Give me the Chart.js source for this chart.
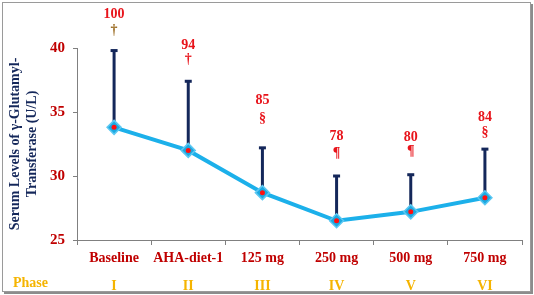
<!DOCTYPE html>
<html lang="en">
<head>
<meta charset="UTF-8">
<title>Serum GGT by phase</title>
<script src="https://cdn.jsdelivr.net/npm/chart.js"></script>
<style>
  html, body { margin: 0; padding: 0; background: #fff; }
  #wrap { position: relative; width: 534px; height: 295px; }
  #frame { position: absolute; left: 2px; top: 2px; width: 527px; height: 288px;
           border: 1px solid #9a9a9a; box-shadow: 2px 2px 0 #8c8c8c; pointer-events: none; }
</style>
</head>
<body>
<div id="wrap">
  <canvas id="ggtChart" width="534" height="295"></canvas>
  <div id="frame"></div>
</div>
<script>
const categories = ['Baseline', 'AHA-diet-1', '125 mg', '250 mg', '500 mg', '750 mg'];
const phases = ['I', 'II', 'III', 'IV', 'V', 'VI'];
const means = [33.8, 32.0, 28.7, 26.5, 27.2, 28.3];
const upperErr = [39.8, 37.4, 32.2, 30.0, 30.1, 32.1];
const pctLabels = ['100', '94', '85', '78', '80', '84'];
const sigMarks = ['\u2020', '\u2020', '\u00A7', '\u00B6', '\u00B6', '\u00A7'];
const pctLabelY = [42.6, 40.2, 35.9, 33.1, 33.0, 34.6];
const sigMarkY = [41.4, 39.1, 34.5, 31.8, 31.9, 33.4];
const yTicks = [25, 30, 35, 40];

const serif = '"Liberation Serif", "Times New Roman", serif';

// error bars + annotations drawn through the scales
const errorBars = {
  id: 'errorBars',
  beforeDatasetsDraw(chart) {
    const ctx = chart.ctx, x = chart.scales.x, y = chart.scales.y;
    ctx.save();
    ctx.strokeStyle = '#14275a';
    ctx.lineWidth = 3;
    means.forEach((m, i) => {
      const px = x.getPixelForValue(i);
      const top = y.getPixelForValue(upperErr[i]);
      ctx.beginPath();
      ctx.moveTo(px, y.getPixelForValue(m));
      ctx.lineTo(px, top);
      ctx.stroke();
      ctx.fillStyle = '#14275a';
      ctx.fillRect(px - 3.5, top - 1.5, 7, 3);
    });
    ctx.restore();
  },
  afterDraw(chart) {
    const ctx = chart.ctx, x = chart.scales.x, y = chart.scales.y;
    ctx.save();
    ctx.textAlign = 'center';
    ctx.textBaseline = 'middle';
    pctLabels.forEach((t, i) => {
      const px = x.getPixelForValue(i);
      ctx.fillStyle = '#e8141b';
      ctx.font = 'bold 14px ' + serif;
      ctx.fillText(t, px, y.getPixelForValue(pctLabelY[i]));
      ctx.fillStyle = i === 0 ? '#9a6a20' : '#e8141b';
      ctx.fillText(sigMarks[i], px, y.getPixelForValue(sigMarkY[i]));
    });
    ctx.fillStyle = '#f5b400';
    ctx.textAlign = 'left';
    ctx.fillText('Phase', 13, 283);
    ctx.restore();
  }
};

new Chart(document.getElementById('ggtChart'), {
  type: 'line',
  data: {
    labels: categories,
    datasets: [{
      data: means,
      order: 1,
      borderColor: '#1cb0ea',
      borderWidth: 4,
      pointStyle: 'rectRot',
      pointRadius: 7,
      pointBorderWidth: 1.5,
      pointBackgroundColor: '#1aa9e2',
      pointBorderColor: '#5cc8f2',
      tension: 0
    }, {
      data: means,
      order: 0,
      showLine: false,
      pointStyle: 'circle',
      pointRadius: 2.5,
      pointBorderWidth: 0,
      pointBackgroundColor: '#ff1010'
    }]
  },
  options: {
    responsive: false,
    animation: false,
    layout: { padding: { top: 48, right: 12, left: 0, bottom: 0 } },
    plugins: { legend: { display: false }, tooltip: { enabled: false } },
    scales: {
      y: {
        min: 25, max: 40,
        afterBuildTicks(s) { s.ticks = yTicks.map(v => ({ value: v })); },
        afterFit(s) { s.width = 77; },
        grid: { display: true, drawOnChartArea: false, tickLength: 4, color: '#808080' },
        border: { color: '#808080', width: 1 },
        ticks: { color: '#c00000', padding: 8, font: { family: serif, size: 15, weight: 'bold' } },
        title: {
          display: true,
          text: ['Serum Levels of \u03B3-Glutamyl-', 'Transferase (U/L)'],
          color: '#14275a',
          font: { family: serif, size: 14, weight: 'bold' },
          padding: { top: 7, bottom: 0 }
        }
      },
      x: {
        offset: true,
        afterFit(s) { s.height = 28; },
        grid: { display: true, drawOnChartArea: false, offset: true, tickLength: 5, color: '#808080' },
        border: { color: '#808080', width: 1 },
        ticks: { color: '#c00000', padding: 5, maxRotation: 0, minRotation: 0, autoSkip: false,
                 font: { family: serif, size: 14, weight: 'bold' } }
      },
      phase: {
        type: 'category',
        position: 'bottom',
        labels: phases,
        offset: true,
        afterFit(s) { s.height = 27; },
        grid: { display: false, drawTicks: false },
        border: { display: false },
        ticks: { color: '#f5b400', padding: 10, maxRotation: 0, autoSkip: false,
                 font: { family: serif, size: 14, weight: 'bold' } }
      }
    }
  },
  plugins: [errorBars]
});
</script>
</body>
</html>
